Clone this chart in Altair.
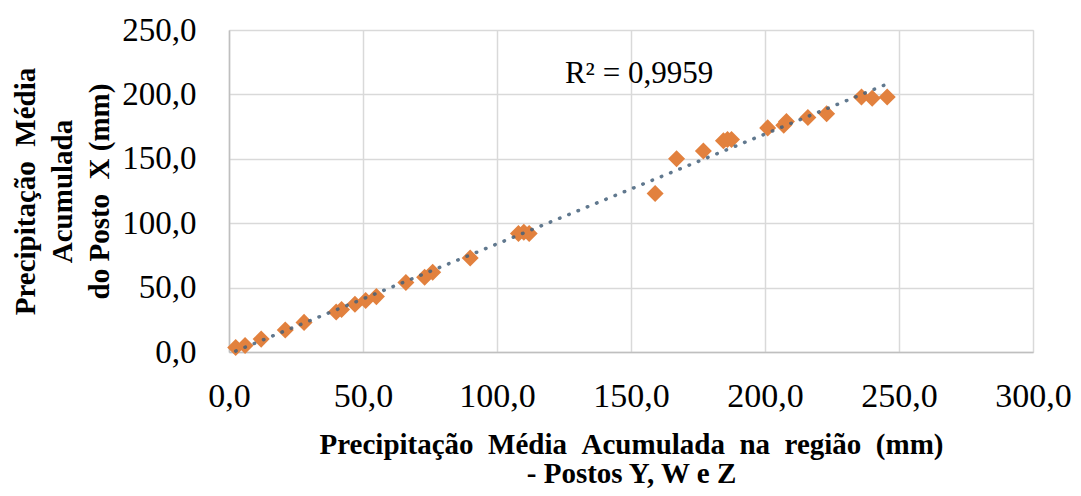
import altair as alt
import pandas as pd

# Data
regiao = [2.5, 6, 12, 21, 28, 40, 42, 47, 51, 55, 66, 73, 76, 90, 108, 110, 112,
          159, 167, 177, 184.5, 186, 187.5, 201, 207, 208, 216, 223, 236, 240, 245.6]
posto_x = [3.5, 5, 10, 17, 23, 31, 33, 37, 40, 43, 54, 58, 62, 73, 92, 93, 92,
           123, 150, 156, 164, 165, 165, 174, 176, 179, 182, 185, 198, 197, 198]
r2_label = "R² = 0,9959"

df = pd.DataFrame({"x": regiao, "y": posto_x})

FONT = "Liberation Serif"
SP = " \u00a0"

xenc = alt.X("x:Q",
             scale=alt.Scale(domain=[0, 300], nice=False),
             axis=alt.Axis(values=[0, 50, 100, 150, 200, 250, 300],
                           labelExpr="replace(format(datum.value, '.1f'), '.', ',')",
                           title=["Precipitação" + SP + "Média" + SP + "Acumulada" + SP + "na" + SP + "região" + SP + "(mm)",
                                  "- Postos Y, W e Z"],
                           titleFont=FONT, titleFontSize=29, titleFontWeight="bold",
                           titleColor="#000000", titleLineHeight=29,
                           titleBaseline="alphabetic", titleY=101,
                           labelFont=FONT, labelFontSize=34, labelColor="#000000",
                           labelPadding=27, ticks=False, labelFlush=False,
                           labelOverlap=False,
                           domainColor="#BFBFBF", domainWidth=1.5,
                           gridColor="#D9D9D9", gridWidth=1.5))
yenc = alt.Y("y:Q",
             scale=alt.Scale(domain=[0, 250], nice=False),
             axis=alt.Axis(values=[0, 50, 100, 150, 200, 250],
                           labelExpr="replace(format(datum.value, '.1f'), '.', ',')",
                           title=["Precipitação" + SP + "Média", "Acumulada", "do Posto" + SP + "X (mm)"],
                           titleFont=FONT, titleFontSize=29, titleFontWeight="bold",
                           titleColor="#000000", titleLineHeight=37,
                           titleBaseline="alphabetic", titleX=-195,
                           labelFont=FONT, labelFontSize=33, labelColor="#000000",
                           labelPadding=33, ticks=False, labelFlush=False,
                           labelOverlap=False,
                           domainColor="#BFBFBF", domainWidth=1.5,
                           gridColor="#D9D9D9", gridWidth=1.5))

points = alt.Chart(df).mark_point(shape="diamond", filled=True, size=290,
                                  color="#E2813E", opacity=1).encode(x=xenc, y=yenc)

trend = alt.Chart(df).transform_regression("x", "y").mark_line(
    color="#44607A", strokeWidth=3.5, strokeDash=[0.5, 9.5], strokeCap="round",
    opacity=0.85).encode(x="x:Q", y="y:Q")

label = alt.Chart(pd.DataFrame({"t": [r2_label]})).mark_text(
    font=FONT, fontSize=31, color="#000000", align="center", baseline="middle"
).encode(x=alt.datum(153), y=alt.datum(216), text="t:N")

chart = alt.layer(points, trend, label).properties(
    width=804, height=322,
    autosize=alt.AutoSizeParams(type="none"),
    padding={"left": 221, "top": 22, "right": 40, "bottom": 136},
).configure_view(stroke=None).configure(background="#FFFFFF")

chart.save("out.html", embed_options={"renderer": "svg", "actions": False})
